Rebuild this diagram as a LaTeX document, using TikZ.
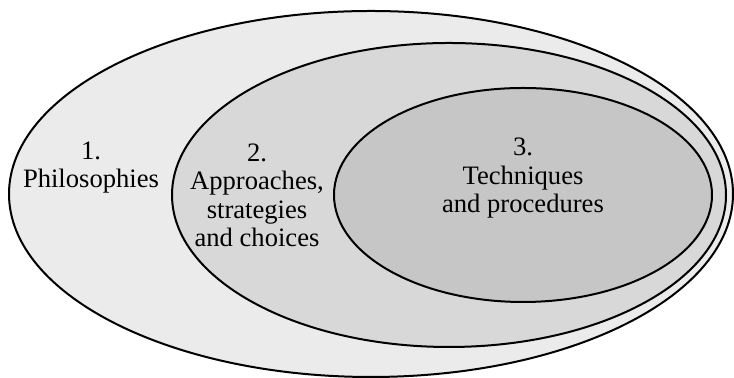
\documentclass[tikz,border=0pt]{standalone}
\usepackage{fontspec}
\setmainfont{Liberation Serif}
\usepackage{tikz}

\definecolor{ringA}{HTML}{EBEBEB}
\definecolor{ringB}{HTML}{D8D8D8}
\definecolor{ringC}{HTML}{C6C6C6}

\tikzset{
  ring/.style={draw=black, line width=1pt},
  label/.style={align=center, inner sep=0pt,
    font=\fontsize{13.3pt}{14.2pt}\selectfont}
}

\begin{document}
\begin{tikzpicture}
    \useasboundingbox (0,0) rectangle (367pt,189pt);

    % Outer ring
    \filldraw[ring, fill=ringA] (185.5pt,92pt) ellipse [x radius=181pt, y radius=91.5pt];

    % Middle ring
    \filldraw[ring, fill=ringB] (224.5pt,91.5pt) ellipse [x radius=138.5pt, y radius=76pt];

    % Inner ring
    \filldraw[ring, fill=ringC] (261.5pt,91.5pt) ellipse [x radius=94.5pt, y radius=53.5pt];

    % Labels
    \node[label] (philo) at (45.5pt,105.3pt) {1.\\Philosophies};
    \node[label] (approach) at (128.5pt,91.3pt) {2.\\Approaches,\\strategies\\and choices};
    \node[label] (tech) at (261.5pt,99.8pt) {3.\\Techniques\\and procedures};
\end{tikzpicture}
\end{document}
